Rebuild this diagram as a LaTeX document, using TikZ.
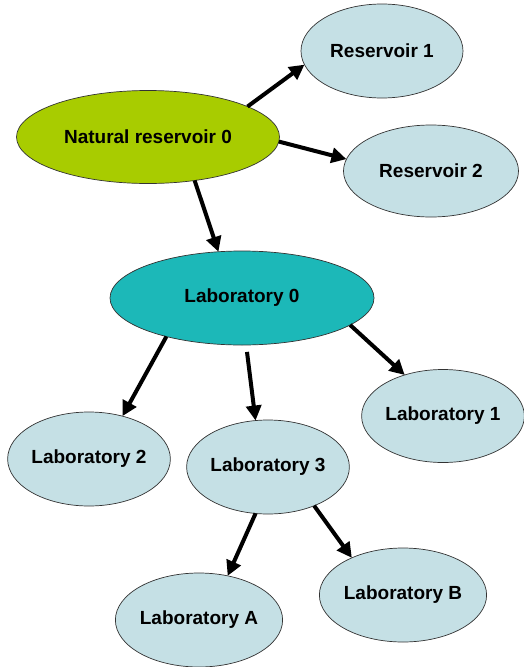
\documentclass[tikz,border=0pt]{standalone}
\usepackage{fontspec}
\setmainfont{Liberation Sans}
\usetikzlibrary{shapes.geometric,arrows.meta}
\definecolor{lightfill}{HTML}{C5E0E5}
\definecolor{greenfill}{HTML}{A8CC00}
\definecolor{tealfill}{HTML}{1CB8B8}
\tikzset{
  oval/.style={ellipse,draw=black!80,line width=0.7pt,fill=lightfill,inner sep=0pt,outer sep=0pt,
    minimum width=162pt,minimum height=94pt,font=\fontsize{19}{22}\selectfont\bfseries},
  link/.style={line width=4pt,-{Triangle[length=15pt,width=15pt]}}
}
\begin{document}
\begin{tikzpicture}[x=1pt,y=-1pt]
\useasboundingbox (0,0) rectangle (523,667);
\node[oval,fill=greenfill,minimum width=263pt,minimum height=93pt] (nr0) at (148,137) {Natural reservoir 0};
\node[oval] (r1) at (382,51) {Reservoir 1};
\node[oval,minimum width=175pt,minimum height=92pt] (r2) at (431,171) {Reservoir 2};
\node[oval,fill=tealfill,minimum width=264pt] (lab0) at (242,298) {Laboratory 0};
\node[oval,minimum width=157pt,minimum height=93pt] (lab1) at (443,416) {Laboratory 1};
\node[oval] (lab2) at (89,459) {Laboratory 2};
\node[oval] (lab3) at (268,467) {Laboratory 3};
\node[oval] (labA) at (199,620) {Laboratory A};
\node[oval] (labB) at (403,595) {Laboratory B};
\draw[link] (nr0.17) -- (r1.190);
\draw[link] (nr0.-2) -- (r2.172);
\draw[link] (nr0.-43) -- (lab0.117);
\draw[link] (lab0.207) -- (lab2.52);
\draw[link,shorten <=7pt] (lab0.-85) -- (lab3.105);
\draw[link] (lab0.-14) -- (lab1.133);
\draw[link] (lab3.255) -- (labA.57);
\draw[link] (lab3.-40) -- (labB.144);
\end{tikzpicture}
\end{document}
